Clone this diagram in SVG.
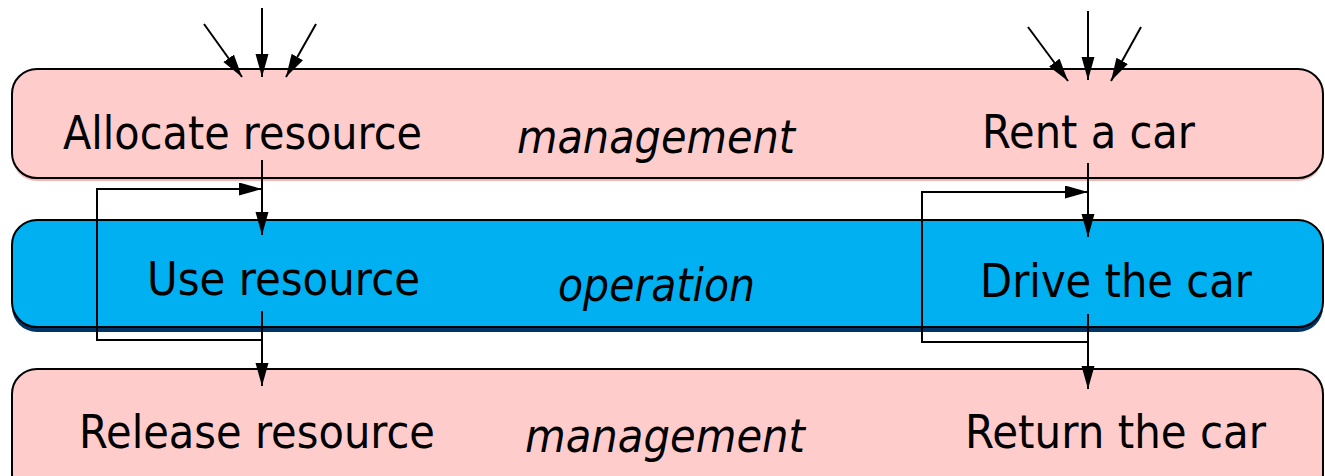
<svg xmlns="http://www.w3.org/2000/svg" width="1325" height="476" viewBox="0 0 1325 476">
<style>
.mgmt{fill:#ffcccc;stroke:#000;stroke-width:2}
.op{fill:#00b0f0;stroke:#000;stroke-width:2}
.t{font-family:"DejaVu Sans","Liberation Sans",sans-serif;font-size:46px;fill:#000}
.i{font-style:italic}
.c{fill:none;stroke:#000;stroke-width:2}
</style>
<defs>
<marker id="ah" markerUnits="userSpaceOnUse" markerWidth="24" markerHeight="14" refX="23" refY="6.5" orient="auto">
<path d="M0,0 L23,6.5 L0,13 Z" fill="#000"/>
</marker>
</defs>
<rect width="1325" height="476" fill="#fff"/>
<g id="lane-top">
<rect x="12" y="72" width="1311" height="109" rx="25" fill="#f2b6b6"/>
<rect class="mgmt" x="12" y="69" width="1311" height="109" rx="25"/>
<text class="t i" x="517" y="153" textLength="278" lengthAdjust="spacingAndGlyphs">management</text>
</g>
<g id="lane-mid">
<rect x="12" y="225" width="1311" height="107" rx="25" fill="#003366"/>
<rect class="op" x="12" y="220" width="1311" height="107" rx="25"/>
<text class="t i" x="558" y="301" textLength="197" lengthAdjust="spacingAndGlyphs">operation</text>
</g>
<g id="lane-bot">
<rect class="mgmt" x="12" y="369" width="1311" height="130" rx="25"/>
<text class="t i" x="525" y="452" textLength="280" lengthAdjust="spacingAndGlyphs">management</text>
</g>
<g id="allocate"><text class="t" x="63" y="149" textLength="359" lengthAdjust="spacingAndGlyphs">Allocate resource</text></g>
<g id="use"><text class="t" x="147" y="295" textLength="273" lengthAdjust="spacingAndGlyphs">Use resource</text></g>
<g id="release"><text class="t" x="79" y="448" textLength="356" lengthAdjust="spacingAndGlyphs">Release resource</text></g>
<g id="rent"><text class="t" x="982" y="148" textLength="213" lengthAdjust="spacingAndGlyphs">Rent a car</text></g>
<g id="drive"><text class="t" x="980" y="297" textLength="272" lengthAdjust="spacingAndGlyphs">Drive the car</text></g>
<g id="return"><text class="t" x="965" y="448" textLength="301" lengthAdjust="spacingAndGlyphs">Return the car</text></g>
<g id="connectors">
<line class="c" x1="262" y1="8" x2="262" y2="77" marker-end="url(#ah)"/>
<line class="c" x1="204" y1="24" x2="242" y2="77" marker-end="url(#ah)"/>
<line class="c" x1="316" y1="24" x2="286" y2="77" marker-end="url(#ah)"/>
<line class="c" x1="262" y1="160" x2="262" y2="235" marker-end="url(#ah)"/>
<path class="c" d="M262,340 H97 V189 H262" marker-end="url(#ah)"/>
<line class="c" x1="262" y1="311" x2="262" y2="386" marker-end="url(#ah)"/>
<line class="c" x1="1088" y1="11" x2="1088" y2="80" marker-end="url(#ah)"/>
<line class="c" x1="1028" y1="27" x2="1068" y2="81" marker-end="url(#ah)"/>
<line class="c" x1="1141" y1="27" x2="1111" y2="81" marker-end="url(#ah)"/>
<line class="c" x1="1088" y1="163" x2="1088" y2="237" marker-end="url(#ah)"/>
<path class="c" d="M1088,342 H922 V192 H1088" marker-end="url(#ah)"/>
<line class="c" x1="1088" y1="314" x2="1088" y2="389" marker-end="url(#ah)"/>
</g>
</svg>
